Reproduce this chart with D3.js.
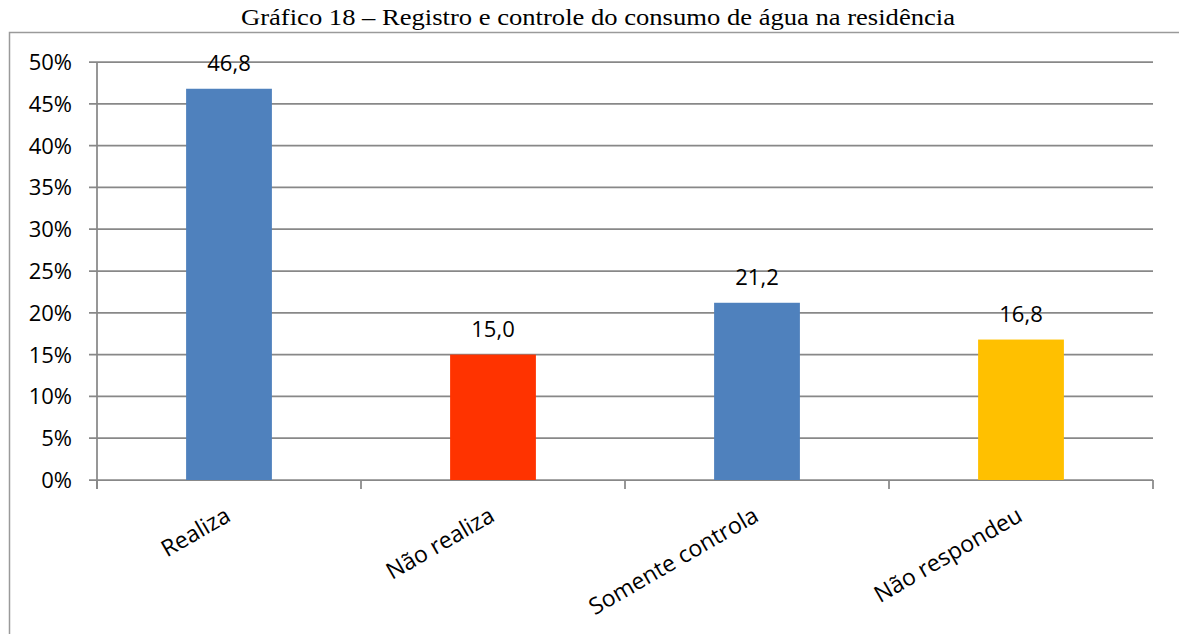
<!DOCTYPE html>
<html>
<head>
<meta charset="UTF-8">
<title>Gráfico 18</title>
<style>
  body { margin: 0; background: #fff; }
  svg { display: block; }
</style>
</head>
<body>
<svg id="chart"></svg>
<script src="https://cdnjs.cloudflare.com/ajax/libs/d3/7.8.5/d3.min.js"></script>
<script>
// data
const categories = ["Realiza", "Não realiza", "Somente controla", "Não respondeu"];
const values = [46.8, 15.0, 21.2, 16.8];
const barColors = ["#4F81BD", "#FF3300", "#4F81BD", "#FFC000"];
const yTicks = [0, 5, 10, 15, 20, 25, 30, 35, 40, 45, 50];
const title = "Gráfico 18 – Registro e controle do consumo de água na residência";

const width = 1179, height = 634;
const svg = d3.select("#chart").attr("width", width).attr("height", height);

const plot = { left: 97, right: 1153, top: 62, bottom: 480 };
const labelFont = "'Open Sans', sans-serif";

// title (stretched a bit, like the scaled original)
svg.append("text")
  .attr("x", 598)
  .attr("y", 25)
  .attr("text-anchor", "middle")
  .attr("font-family", "'Liberation Serif', 'Times New Roman', serif")
  .attr("font-size", "23px")
  .attr("textLength", 714)
  .attr("lengthAdjust", "spacingAndGlyphs")
  .attr("fill", "#000")
  .text(title);

// frame around the chart
svg.append("rect")
  .attr("x", 9.5).attr("y", 32.5)
  .attr("width", 1200).attr("height", 700)
  .attr("fill", "none")
  .attr("stroke", "#9a9a9a")
  .attr("stroke-width", 1.5);

let x = d3.scaleBand()
  .domain(categories)
  .range([plot.left, plot.right])
  .paddingInner(0.675)
  .paddingOuter(0.3375);

let y = d3.scaleLinear()
  .domain([0, 50])
  .range([plot.bottom, plot.top]);

// gridlines
svg.append("g")
  .selectAll("line")
  .data(yTicks)
  .enter()
  .append("line")
  .attr("x1", plot.left - 8)
  .attr("x2", plot.right)
  .attr("y1", d => y(d))
  .attr("y2", d => y(d))
  .attr("stroke", "#888")
  .attr("stroke-width", 1.75);

// y axis line
svg.append("line")
  .attr("x1", plot.left).attr("x2", plot.left)
  .attr("y1", plot.top).attr("y2", plot.bottom + 9)
  .attr("stroke", "#888")
  .attr("stroke-width", 1.75);

// y labels
svg.append("g")
  .selectAll("text")
  .data(yTicks)
  .enter()
  .append("text")
  .attr("x", 72)
  .attr("y", d => y(d))
  .attr("dy", "0.36em")
  .attr("text-anchor", "end")
  .attr("font-family", labelFont)
  .attr("font-size", "22px")
  .attr("fill", "#000")
  .text(d => d + "%");

// bars
svg.append("g")
  .selectAll("rect")
  .data(values)
  .enter()
  .append("rect")
  .attr("x", (d, i) => x(categories[i]))
  .attr("y", d => y(d))
  .attr("width", x.bandwidth())
  .attr("height", d => y(0) - y(d))
  .attr("fill", (d, i) => barColors[i]);

// category tick marks at band edges
const step = x.step();
const edges = d3.range(categories.length + 1).map(i => plot.left + i * step);
svg.append("g")
  .selectAll("line")
  .data(edges)
  .enter()
  .append("line")
  .attr("x1", d => d).attr("x2", d => d)
  .attr("y1", plot.bottom).attr("y2", plot.bottom + 9)
  .attr("stroke", "#888")
  .attr("stroke-width", 1.75);

// value labels
svg.append("g")
  .selectAll("text")
  .data(values)
  .enter()
  .append("text")
  .attr("x", (d, i) => x(categories[i]) + x.bandwidth() / 2)
  .attr("y", d => y(d) - 18)
  .attr("text-anchor", "middle")
  .attr("font-family", labelFont)
  .attr("font-size", "22px")
  .attr("fill", "#000")
  .text(d => d.toFixed(1).replace(".", ","));

// rotated category labels
svg.append("g")
  .selectAll("text")
  .data(categories)
  .enter()
  .append("text")
  .attr("transform", d => `translate(${x(d) + x.bandwidth() / 2 + 3}, 520) rotate(-30)`)
  .attr("text-anchor", "end")
  .attr("font-family", labelFont)
  .attr("font-size", "23px")
  .attr("fill", "#000")
  .text(d => d);
</script>
</body>
</html>
